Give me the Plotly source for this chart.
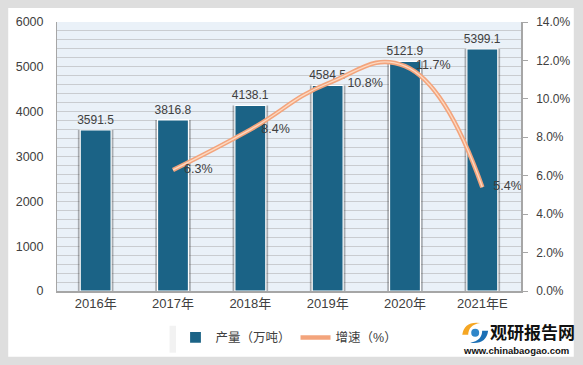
import plotly.graph_objects as go

categories = ["2016年", "2017年", "2018年", "2019年", "2020年", "2021年E"]
production = [3591.5, 3816.8, 4138.1, 4584.5, 5121.9, 5399.1]
growth_cats = ["2017年", "2018年", "2019年", "2020年", "2021年E"]
growth = [6.3, 8.4, 10.8, 11.7, 5.4]
left_ticks = [0, 1000, 2000, 3000, 4000, 5000, 6000]
right_ticks = [0, 2, 4, 6, 8, 10, 12, 14]

FONT = "Liberation Sans, Noto Sans CJK SC, sans-serif"
TXT = "#404040"
BAR = "#1b6386"

fig = go.Figure()

# soft shadow behind bars
fig.add_trace(go.Bar(x=categories, y=production, width=0.46,
                     marker=dict(color="rgba(60,60,60,0.38)", line=dict(width=0)),
                     showlegend=False, hoverinfo="skip"))
fig.add_trace(go.Bar(x=categories, y=production, width=0.4, name="产量（万吨）",
                     marker=dict(color=BAR, line=dict(color="white", width=1.2)),
                     text=[f"{v:.1f}" for v in production], textposition="outside",
                     constraintext="none",
                     textfont=dict(family=FONT, size=12, color=TXT), cliponaxis=False))

# growth line: outer + inner for glow look
fig.add_trace(go.Scatter(x=growth_cats, y=growth, yaxis="y2", mode="lines",
                         line=dict(color="#f3a47c", width=4.5, shape="spline", smoothing=1.3),
                         name="增速（%）"))
label_pad = [16, 16, 30, 16, 16]  # invisible marker sizes -> label offset from point
fig.add_trace(go.Scatter(x=growth_cats, y=growth, yaxis="y2", mode="lines+markers+text",
                         line=dict(color="#fcd9c2", width=1.3, shape="spline", smoothing=1.3),
                         marker=dict(size=label_pad, opacity=0),
                         text=[f"{v:.1f}%" for v in growth], textposition="middle right",
                         textfont=dict(family=FONT, size=12.5, color=TXT),
                         showlegend=False, hoverinfo="skip", cliponaxis=False))

# paper coordinates helpers (plot area: x 57..523, y 22..292)
def px(x):
    return (x - 57) / 466.0

def py(y):
    return (292 - y) / 270.0

shapes = [
    dict(type="rect", xref="paper", yref="paper", x0=px(8), x1=px(576), y0=py(358), y1=py(8),
         fillcolor="white", line=dict(width=0), layer="below"),
    dict(type="rect", xref="paper", yref="paper", x0=0, x1=1, y0=0, y1=1,
         fillcolor="#eaf1f8", line=dict(width=0), layer="below"),
    # legend shadow
    dict(type="rect", xref="paper", yref="paper", x0=px(170), x1=px(402), y0=py(354), y1=py(327),
         fillcolor="rgba(0,0,0,0.05)", line=dict(width=0), layer="below"),
    # logo swirls
    dict(type="path", xref="paper", yref="paper",
         path=f"M {px(464)},{py(336)} Q {px(466)},{py(322)} {px(482)},{py(324)} Q {px(470)},{py(326)} {px(470)},{py(336)} Z",
         fillcolor="#f5a623", line=dict(width=0)),
    dict(type="path", xref="paper", yref="paper",
         path=f"M {px(490)},{py(332)} Q {px(488)},{py(346)} {px(472)},{py(344)} Q {px(484)},{py(342)} {px(484)},{py(332)} Z",
         fillcolor="#1b6fb5", line=dict(width=0)),
    dict(type="circle", xref="paper", yref="paper", x0=px(473), x1=px(481), y0=py(338), y1=py(330),
         fillcolor="#2f86c9", line=dict(width=0)),
]

annotations = [
    dict(xref="paper", yref="paper", x=px(535), y=py(333), text="<b>观研报告网</b>", showarrow=False,
         font=dict(family="Noto Sans CJK SC", size=17, color="#111111"), xanchor="center", yanchor="middle"),
    dict(xref="paper", yref="paper", x=px(518), y=py(352), text="<b>www.chinabaogao.com</b>", showarrow=False,
         font=dict(family="Liberation Sans", size=9.5, color="#111111"), xanchor="center", yanchor="middle"),
]

fig.update_layout(
    width=583, height=365,
    margin=dict(l=57, r=60, t=22, b=73),
    paper_bgcolor="#dedede",
    plot_bgcolor="rgba(0,0,0,0)",
    barmode="overlay",
    font=dict(family=FONT, size=12, color=TXT),
    shapes=shapes,
    annotations=annotations,
    showlegend=True,
    legend=dict(orientation="h", x=0.5, xanchor="center", y=py(339), yanchor="middle",
                bgcolor="white", font=dict(family=FONT, size=12.5, color=TXT),
                itemwidth=30, traceorder="normal"),
    xaxis=dict(type="category", categoryorder="array", categoryarray=categories,
               showline=True, linecolor="#a6a6a6", linewidth=1.5, ticks="",
               tickfont=dict(family=FONT, size=13, color=TXT), showgrid=False),
    yaxis=dict(range=[0, 6000], tickvals=left_ticks, showline=True, linecolor="#a6a6a6",
               linewidth=1, ticks="", ticklabelstandoff=10,
               showgrid=True, gridcolor="#c9ccd0", gridwidth=1,
               minor=dict(dtick=200, showgrid=True, gridcolor="#c9ccd0", gridwidth=1),
               zeroline=False, tickfont=dict(family=FONT, size=12.5, color=TXT)),
    yaxis2=dict(range=[0, 14], tickvals=right_ticks, overlaying="y", side="right",
                ticktext=[f"{v:.1f}%" for v in right_ticks],
                showline=True, linecolor="#a6a6a6", linewidth=1.5, ticks="outside",
                ticklen=5, tickcolor="#a6a6a6", ticklabelstandoff=6,
                showgrid=False, zeroline=False, tickfont=dict(family=FONT, size=12, color=TXT)),
)

fig.write_html("out.html", config={"displayModeBar": False},
               post_script="document.body.style.margin='0';document.body.style.overflow='hidden';")
